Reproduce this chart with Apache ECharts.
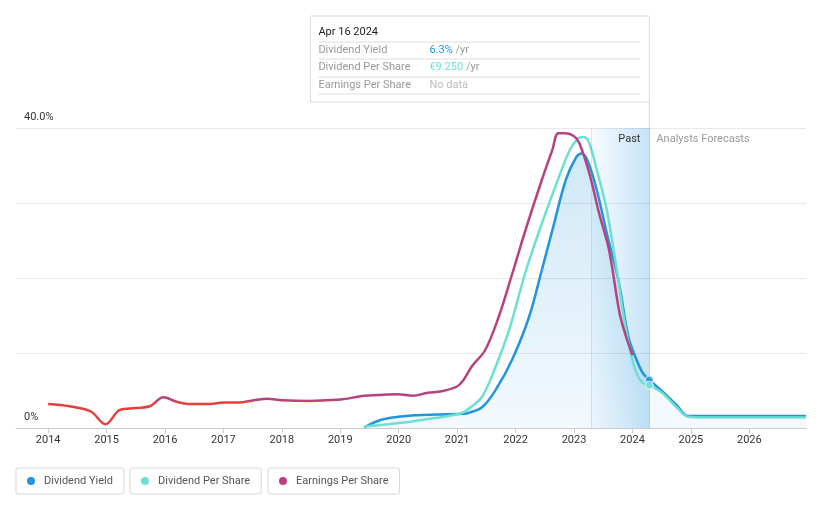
<!DOCTYPE html>
<html><head><meta charset="utf-8">
<script src="https://cdn.jsdelivr.net/npm/echarts@6/dist/echarts.min.js"></script>
<style>html,body{margin:0;padding:0;background:#fff}#c{width:821px;height:508px}</style>
</head><body><div id="c"></div>
<script>
// ---- data ----
const yearTicks = [2014,2015,2016,2017,2018,2019,2020,2021,2022,2023,2024,2025,2026];

const yieldYears  = [2019.41,2019.7,2019.99,2020.27,2020.67,2021.08,2021.19,2021.43,2021.66,2021.94,2022.23,2022.45,2022.63,2022.86,2023.03,2023.13,2023.23,2023.39,2023.56,2023.76,2023.93,2024.07,2024.18,2024.29];
const yieldValues = [0.1,1.1,1.5,1.7,1.8,1.9,2.0,2.8,5.1,9.1,14.8,21.1,26.4,33.1,36.0,36.6,35.7,31.7,26.0,19.7,12.2,9.1,7.3,6.4];
const yieldFcYears  = [2024.29,2024.52,2024.75,2024.95,2025.2,2026.97];
const yieldFcValues = [6.4,4.8,3.1,1.6,1.6,1.6];

const dpsYears  = [2019.41,2019.81,2020.16,2020.5,2020.85,2021.08,2021.22,2021.43,2021.66,2021.89,2022.17,2022.41,2022.7,2022.93,2023.07,2023.16,2023.25,2023.39,2023.56,2023.76,2023.84,2023.96,2024.07,2024.18,2024.29];
const dpsValues = [0.2,0.5,0.8,1.2,1.6,2.0,2.7,4.2,8.2,13.1,20.8,26.4,32.6,37.1,38.6,38.8,38.2,34.4,29.1,19.7,15.3,10.4,7.3,6.0,5.7];
const dpsFcYears  = [2024.29,2024.52,2024.75,2024.95,2025.2,2026.97];
const dpsFcValues = [5.7,4.6,2.8,1.5,1.4,1.4];

const epsYears  = [2014.0,2014.36,2014.73,2014.98,2015.22,2015.39,2015.74,2015.97,2016.2,2016.43,2016.77,2017.0,2017.26,2017.52,2017.75,2018.0,2018.49,2018.77,2019.01,2019.41,2019.64,2019.99,2020.24,2020.5,2020.73,2020.99,2021.1,2021.25,2021.48,2021.71,2021.94,2022.17,2022.45,2022.63,2022.73,2022.86,2023.0,2023.09,2023.26,2023.43,2023.6,2023.78,2023.89,2024.0];
const epsValues = [3.2,2.9,2.2,0.5,2.4,2.6,2.9,4.1,3.5,3.2,3.2,3.4,3.4,3.7,3.9,3.7,3.6,3.7,3.8,4.3,4.4,4.5,4.3,4.7,4.9,5.5,6.3,8.2,10.4,14.8,20.5,26.4,33.1,37.1,39.3,39.3,38.9,38.0,34.0,28.6,23.7,15.3,12.2,9.7];
const epsRedBelow = 3.6;

const pastStartYear = 2023.29;
const todayYear = 2024.29;
const axisMin = 2013.45, axisMax = 2026.97;

const tipDate = 'Apr 16 2024';
const tipRows = [
  ['Dividend Yield', '6.3%', '#2394df', ' /yr'],
  ['Dividend Per Share', '€9.250', '#6de0d3', ' /yr'],
  ['Earnings Per Share', 'No data', '#bbbbbb', '']
];

// ---- build ----
const zip = (xs, ys) => xs.map((x, i) => [x, ys[i]]);
const BLUE = '#2394df', TEAL = '#6de0d3', MAG = '#b8427e', RED = '#e3403c';
const FONT = 'Roboto';

const chart = echarts.init(document.getElementById('c'), null, {renderer: 'canvas'});

function legend(name, color, left) {
  return {
    left: left, top: 468, selectedMode: false,
    data: [{name: name, itemStyle: {color: color}}],
    icon: 'circle', itemWidth: 8, itemHeight: 8,
    borderColor: '#d8d8d8', borderWidth: 1, borderRadius: 2,
    padding: [6, 11, 6, 11],
    textStyle: {fontSize: 11, color: '#555', fontFamily: FONT, padding: [0, 0, 0, 4], lineHeight: 14}
  };
}

const option = {
  animation: false,
  backgroundColor: '#fff',
  textStyle: {fontFamily: FONT},
  grid: {left: 16, right: 15, top: 128, bottom: 80},
  legend: [
    legend('Dividend Yield', BLUE, 16),
    legend('Dividend Per Share', TEAL, 130),
    legend('Earnings Per Share', MAG, 268)
  ],
  xAxis: {
    type: 'value', min: axisMin, max: axisMax,
    axisLine: {lineStyle: {color: '#cccccc'}},
    axisTick: {show: true, length: 5, lineStyle: {color: '#cccccc'}, customValues: yearTicks},
    axisLabel: {customValues: yearTicks, color: '#333', fontSize: 11, fontFamily: FONT, margin: 7, formatter: v => String(Math.round(v))},
    splitLine: {show: false}
  },
  yAxis: {
    type: 'value', min: 0, max: 40, interval: 10,
    axisLine: {show: false}, axisTick: {show: false},
    splitLine: {lineStyle: {color: '#e8e8e8'}},
    axisLabel: {
      inside: true, margin: 8, color: '#333', fontSize: 11, fontFamily: FONT,
      verticalAlign: 'bottom', padding: [0, 0, 5, 0],
      formatter: v => v === 40 ? '40.0%' : (v === 0 ? '0%' : '')
    }
  },
  series: [
    { // 0 yield past
      name: 'Dividend Yield', type: 'line', smooth: 0.35, showSymbol: false, z: 3,
      data: zip(yieldYears, yieldValues),
      lineStyle: {color: BLUE, width: 2.5}, itemStyle: {color: BLUE},
      areaStyle: {color: new echarts.graphic.LinearGradient(0, 0, 0, 1, [
        {offset: 0, color: 'rgba(35,148,223,0.30)'}, {offset: 1, color: 'rgba(35,148,223,0.08)'}])},
      markArea: {
        silent: true,
        itemStyle: {color: new echarts.graphic.LinearGradient(0, 0, 1, 0, [
          {offset: 0, color: 'rgba(35,148,223,0.03)'}, {offset: 1, color: 'rgba(35,148,223,0.26)'}])},
        label: {show: true, position: 'insideTopRight', distance: 6, padding: [0, 3, 0, 0], color: '#333', fontSize: 11, fontFamily: FONT},
        data: [[{xAxis: pastStartYear, name: 'Past'}, {xAxis: todayYear}]]
      },
      markLine: {
        silent: true, symbol: 'none', label: {show: false},
        lineStyle: {color: 'rgba(35,148,223,0.18)', width: 1, type: 'solid'},
        data: [{xAxis: pastStartYear}]
      }
    },
    { // 1 yield forecast
      name: 'Dividend Yield', type: 'line', smooth: 0.35, showSymbol: false, z: 3,
      data: zip(yieldFcYears, yieldFcValues),
      lineStyle: {color: BLUE, width: 2.5}, itemStyle: {color: BLUE},
      areaStyle: {color: 'rgba(35,148,223,0.08)'},
      markArea: {
        silent: true, itemStyle: {color: 'rgba(0,0,0,0)'},
        label: {show: true, position: 'insideTopLeft', distance: 6, padding: [0, 0, 0, 1], color: '#999', fontSize: 11, fontFamily: FONT},
        data: [[{xAxis: todayYear, name: 'Analysts Forecasts'}, {xAxis: axisMax}]]
      },
      markLine: {
        silent: true, symbol: 'none', label: {show: false},
        lineStyle: {color: 'rgba(35,148,223,0.3)', width: 1, type: 'solid'},
        data: [{xAxis: todayYear}]
      }
    },
    { // 2 dps past
      name: 'Dividend Per Share', type: 'line', smooth: 0.35, showSymbol: false, z: 4,
      data: zip(dpsYears, dpsValues),
      lineStyle: {color: TEAL, width: 2.5}, itemStyle: {color: TEAL}
    },
    { // 3 dps forecast
      name: 'Dividend Per Share', type: 'line', smooth: 0.35, showSymbol: false, z: 4,
      data: zip(dpsFcYears, dpsFcValues),
      lineStyle: {color: TEAL, width: 2.5}, itemStyle: {color: TEAL}
    },
    { // 4 eps
      name: 'Earnings Per Share', type: 'line', smooth: 0.35, showSymbol: false, z: 5,
      data: zip(epsYears, epsValues),
      lineStyle: {color: MAG, width: 2.5}, itemStyle: {color: MAG}
    },
    { // 5 markers
      name: 'yieldNow', type: 'scatter', z: 6, symbolSize: 8,
      data: [[yieldYears[yieldYears.length - 1], yieldValues[yieldValues.length - 1]]],
      itemStyle: {color: BLUE, borderColor: '#fff', borderWidth: 1}
    },
    {
      name: 'dpsNow', type: 'scatter', z: 7, symbolSize: 8,
      data: [[dpsYears[dpsYears.length - 1], dpsValues[dpsValues.length - 1]]],
      itemStyle: {color: TEAL, borderColor: '#fff', borderWidth: 1}
    }
  ]
};
chart.setOption(option);

// red/magenta split of the earnings line by value, via a global vertical gradient
const H = 508;
const thrY = chart.convertToPixel({gridIndex: 0}, [2014, epsRedBelow])[1];
const f = thrY / H;
chart.setOption({series: [{}, {}, {}, {}, {
  lineStyle: {color: new echarts.graphic.LinearGradient(0, 0, 0, H, [
    {offset: 0, color: MAG}, {offset: f, color: MAG}, {offset: f, color: RED}, {offset: 1, color: RED}], true)}
}]});

// tooltip-like box anchored to the "today" position
const todayX = chart.convertToPixel({gridIndex: 0}, [todayYear, 0])[0];
const topY = chart.convertToPixel({gridIndex: 0}, [todayYear, 40])[1];
const boxW = 339, boxX = todayX - boxW, boxY = 16, boxH = 86;
const g = [
  {type: 'line', shape: {x1: todayX, y1: boxY + boxH, x2: todayX, y2: topY}, style: {stroke: 'rgba(35,148,223,0.3)', lineWidth: 1}, silent: true},
  {type: 'rect', shape: {x: boxX, y: boxY, width: boxW, height: boxH}, style: {fill: '#fff', stroke: '#dddddd', lineWidth: 1}, silent: true},
  {type: 'text', x: boxX + 8, y: 32, style: {text: tipDate, fill: '#222', font: '11px ' + FONT, textVerticalAlign: 'middle'}, silent: true}
];
const sepYs = [42, 59, 77, 94];
sepYs.forEach(y => g.push({type: 'line', shape: {x1: boxX + 8, y1: y, x2: todayX - 9, y2: y}, style: {stroke: '#dddddd', lineWidth: 1}, silent: true}));
const rowYs = [50, 67.5, 85];
tipRows.forEach((r, i) => {
  g.push({type: 'text', x: boxX + 8, y: rowYs[i], style: {text: r[0], fill: '#999', font: '11px ' + FONT, textVerticalAlign: 'middle'}, silent: true});
  g.push({type: 'text', x: boxX + 119, y: rowYs[i], style: {
    text: '{v|' + r[1] + '}{u|' + r[3] + '}',
    rich: {v: {fill: r[2], font: '11px ' + FONT}, u: {fill: '#999', font: '11px ' + FONT}},
    textVerticalAlign: 'middle'}, silent: true});
});
chart.setOption({graphic: g});
</script>
</body></html>
